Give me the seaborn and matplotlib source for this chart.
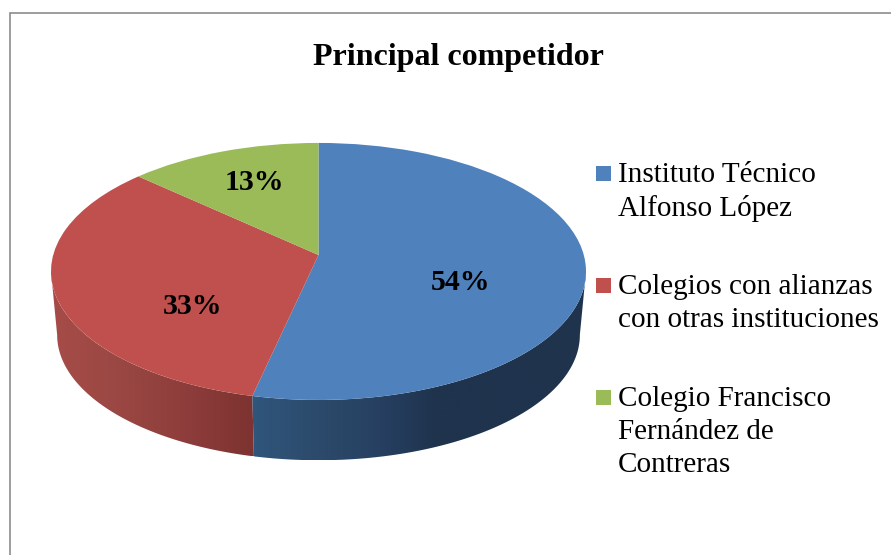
import numpy as np
import matplotlib
matplotlib.use("Agg")
import matplotlib.pyplot as plt
from matplotlib.colors import LinearSegmentedColormap
from matplotlib.patches import Rectangle, Polygon
from matplotlib.transforms import Transform
import seaborn as sns

title = "Principal competidor"
categories = ["Instituto Técnico\nAlfonso López",
              "Colegios con alianzas\ncon otras instituciones",
              "Colegio Francisco\nFernández de\nContreras"]
values = [53.5, 33.3, 13.2]
colors = ["#4F81BD", "#C0504D", "#9BBB59"]

sns.set_theme(style="white")
plt.rcParams["font.family"] = ["Liberation Serif", "DejaVu Serif"]
palette = sns.color_palette(colors)

APEX = (318.5, 255.0)
K, A, C = 0.128, 126.4, 265.3


def project(u, v):
    d = 1 + K * v
    return APEX[0] + C * u / d, APEX[1] - A * v / d


class Tilt(Transform):
    input_dims = output_dims = 2

    def transform_non_affine(self, pts):
        x, y = project(pts[:, 0], pts[:, 1])
        return np.column_stack([x, y])


fig = plt.figure(figsize=(8.91, 5.55), dpi=100, facecolor="white")
ax = fig.add_axes([0, 0, 1, 1])

wedges, _, pct = ax.pie(values, colors=palette, startangle=90, counterclock=False,
                        autopct="%.0f%%", wedgeprops=dict(linewidth=0))
ax.set_aspect("auto")
ax.axis("off")

tilt = Tilt() + ax.transData
for w in wedges:
    w.set_transform(tilt)
    w.set_zorder(3)

# side wall of the front-facing slices
edge = np.degrees(np.arcsin(K))
boundary = 90 - 360 * values[0] / sum(values) + 360


def wall(t0, t1):
    t = np.radians(np.linspace(t0, t1, 160))
    xt, yt = project(np.cos(t), np.sin(t))
    # lower rim: slightly smaller and shifted down
    xb = APEX[0] + (xt - APEX[0]) * 0.977
    yb = (yt - 271.5) * 0.975 + 335.0
    return np.r_[xt, xb[::-1]], np.r_[yt, yb[::-1]]


grads = [
    ([(0, "#A64C48"), (0.35, "#9A4743"), (0.7, "#8C3C3A"), (1, "#7D3331")], (180 + edge, boundary)),
    ([(0, "#30567C"), (0.2, "#2C4A6B"), (0.4, "#263F60"), (0.55, "#1F334D"), (1, "#1F334D")],
     (boundary, 360 - edge)),
]
for stops, (t0, t1) in grads:
    xs, ys = wall(t0, t1)
    cmap = LinearSegmentedColormap.from_list("w", stops)
    im = ax.imshow(np.linspace(0, 1, 256)[None, :], cmap=cmap, aspect="auto",
                   extent=[xs.min(), xs.max(), ys.max(), ys.min()], zorder=2)
    poly = Polygon(np.column_stack([xs, ys]), closed=True, transform=ax.transData)
    im.set_clip_path(poly)
ax.set_xlim(0, 891)
ax.set_ylim(555, 0)

# percentage labels
label_xy = [(461, 282), (192, 307), (254, 182)]
for t, xy in zip(pct, label_xy):
    t.set_transform(ax.transData)
    t.set_position(xy)
    t.set_fontsize(21.5)
    t.set_fontweight("bold")
    t.set_color("black")
    t.set_zorder(5)
    t.set_ha("center")
    t.set_va("center")

ax.text(458, 57, title, fontsize=23, fontweight="bold", ha="center", va="center", color="black")

# legend
leg_y = [173.5, 285.5, 397.5]
for name, col, y in zip(categories, palette, leg_y):
    ax.add_patch(Rectangle((596, y - 7.5), 15, 15, facecolor=col, edgecolor="none", zorder=4))
    ax.text(618, y - 11, name, fontsize=21, ha="left", va="top", color="black",
            linespacing=1.33, zorder=4)

# chart frame
ax.plot([9.5, 9.5, 891], [555, 12.5, 12.5], color="#8C8C8C", lw=1.2, solid_joinstyle="miter", zorder=1)

fig.savefig("out.png", dpi=100, facecolor="white")
